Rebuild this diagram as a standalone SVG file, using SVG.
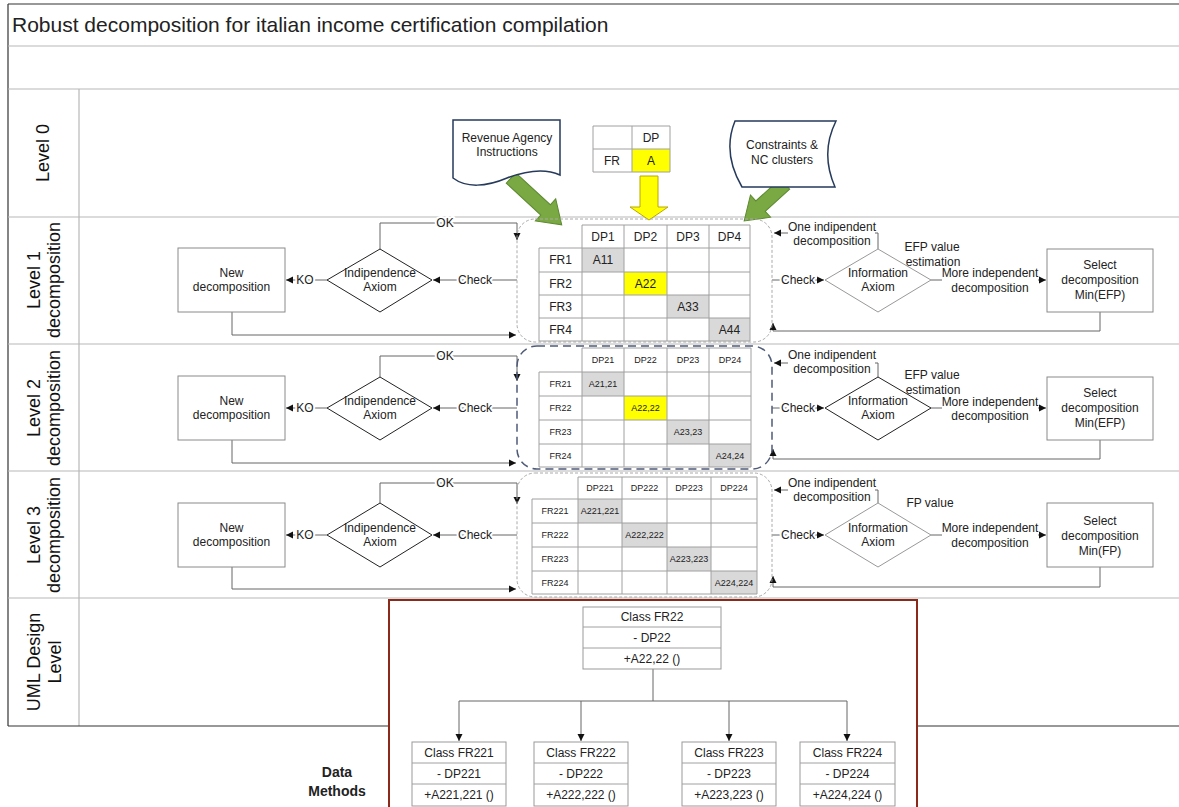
<svg xmlns="http://www.w3.org/2000/svg" width="1179" height="807" viewBox="0 0 1179 807">
<defs>
<marker id="ah" markerWidth="8" markerHeight="8" refX="7" refY="4" orient="auto" markerUnits="userSpaceOnUse"><path d="M0,0.5 L7,4 L0,7.5 Z" fill="#111"/></marker>
<style>
text{font-family:"Liberation Sans",Arial,sans-serif;fill:#222;}
.c{font-size:12px;text-anchor:middle}
.lvl{font-size:18px;text-anchor:middle;fill:#111}
.lane{stroke:#b8b8b8;stroke-width:1.2;fill:none}
.frame{stroke:#333;stroke-width:1.2;fill:none}
.box{fill:#fff;stroke:#8a8a8a;stroke-width:1}
.dia{fill:#fff;stroke:#222;stroke-width:1}
.diag{fill:#fff;stroke:#999;stroke-width:1}
.con{fill:none;stroke:#666;stroke-width:1}
.arr{marker-end:url(#ah)}
.halo{stroke:#fff;stroke-width:4px;paint-order:stroke;stroke-linejoin:round}
.grid{stroke:#a0a0a0;stroke-width:1;fill:none}
.g{fill:#d9d9d9}
.y{fill:#ffff00}
.m1{font-size:12px;text-anchor:middle}
.m2{font-size:9px;text-anchor:middle}
.dl{fill:none;stroke:#aaa;stroke-width:1;stroke-dasharray:3 2}
.dd{fill:none;stroke:#4f5b78;stroke-width:1.5;stroke-dasharray:8 5}
.doc{fill:#fff;stroke:#263a5c;stroke-width:1.5}
.green{fill:#7aa843;stroke:#5d8a30;stroke-width:1}
.uml{fill:#fff;stroke:#999;stroke-width:1}
</style>
</defs>
<rect width="1179" height="807" fill="#fff"/>

<g id="lanes">
<line x1="8" y1="4" x2="1179" y2="4" class="frame"/>
<line x1="8" y1="4" x2="8" y2="726" class="frame"/>
<line x1="8" y1="46" x2="1179" y2="46" class="lane"/>
<line x1="8" y1="89" x2="1179" y2="89" class="lane"/>
<line x1="8" y1="217" x2="1179" y2="217" class="lane"/>
<line x1="8" y1="344" x2="1179" y2="344" class="lane"/>
<line x1="8" y1="471" x2="1179" y2="471" class="lane"/>
<line x1="8" y1="598" x2="1179" y2="598" class="lane"/>
<line x1="79" y1="89" x2="79" y2="726" class="lane"/>
<line x1="8" y1="726" x2="389" y2="726" class="frame"/>
<line x1="917" y1="726" x2="1179" y2="726" class="frame"/>
<text x="12" y="32" font-size="21" fill="#111">Robust decomposition for italian income certification compilation</text>
<text class="lvl" transform="translate(49,153) rotate(-90)">Level 0</text>
<text class="lvl" transform="translate(39.5,280) rotate(-90)">Level 1</text>
<text class="lvl" transform="translate(59.5,280) rotate(-90)">decomposition</text>
<text class="lvl" transform="translate(39.5,408) rotate(-90)">Level 2</text>
<text class="lvl" transform="translate(59.5,408) rotate(-90)">decomposition</text>
<text class="lvl" transform="translate(39.5,535) rotate(-90)">Level 3</text>
<text class="lvl" transform="translate(59.5,535) rotate(-90)">decomposition</text>
<text class="lvl" transform="translate(40,662) rotate(-90)">UML Design</text>
<text class="lvl" transform="translate(61,662) rotate(-90)">Level</text>
<text x="337" y="777" font-size="14" font-weight="bold" text-anchor="middle" fill="#111">Data</text>
<text x="337" y="796" font-size="14" font-weight="bold" text-anchor="middle" fill="#111">Methods</text>
</g>

<g id="connectors">
<!-- level 0 block arrows -->
<polygon class="green" points="0,-7 47,-7 47,-15 69,0 47,15 47,7 0,7" transform="translate(511,178) rotate(42.7)"/>
<polygon class="green" points="0,-7 33,-7 33,-15 55,0 33,15 33,7 0,7" transform="translate(785,184) rotate(137.9)"/>
<polygon points="640,176 658,176 658,207 668,207 649,220 630,207 640,207" fill="#ffff00" stroke="#b8a800" stroke-width="1"/>
<!-- level 1 -->
<line x1="327" y1="280" x2="286" y2="280" class="con arr"/>
<line x1="517" y1="280" x2="433" y2="280" class="con arr"/>
<path d="M380,249 V223 H517 V240" class="con arr"/>
<path d="M232,312 V335 H516" class="con arr"/>
<line x1="772" y1="280" x2="824" y2="280" class="con arr"/>
<path d="M878,249 V233 H774" class="con arr"/>
<line x1="931" y1="280" x2="1046" y2="280" class="con arr"/>
<path d="M1100,312 V331 H773 V323" class="con arr"/>
<!-- level 2 -->
<line x1="327" y1="408" x2="286" y2="408" class="con arr"/>
<line x1="517" y1="408" x2="433" y2="408" class="con arr"/>
<path d="M380,377 V356 H517 V381" class="con arr"/>
<path d="M232,440 V463 H516" class="con arr"/>
<line x1="772" y1="408" x2="824" y2="408" class="con arr"/>
<path d="M878,377 V363 H774" class="con arr"/>
<line x1="931" y1="408" x2="1046" y2="408" class="con arr"/>
<path d="M1100,440 V459 H773 V449" class="con arr"/>
<!-- level 3 -->
<line x1="327" y1="535" x2="286" y2="535" class="con arr"/>
<line x1="517" y1="535" x2="433" y2="535" class="con arr"/>
<path d="M380,503 V483 H517 V504" class="con arr"/>
<path d="M232,567 V589 H516" class="con arr"/>
<line x1="772" y1="535" x2="824" y2="535" class="con arr"/>
<path d="M878,503 V490 H774" class="con arr"/>
<line x1="931" y1="535" x2="1046" y2="535" class="con arr"/>
<path d="M1100,567 V587 H773 V576" class="con arr"/>
<!-- UML -->
<path d="M653,669 V701 M459,701 H847" class="con"/>
<line x1="459" y1="701" x2="459" y2="741" class="con arr"/>
<line x1="581" y1="701" x2="581" y2="741" class="con arr"/>
<line x1="729" y1="701" x2="729" y2="741" class="con arr"/>
<line x1="847" y1="701" x2="847" y2="741" class="con arr"/>
<!-- labels -->
<g class="c">
<text class="halo" x="305" y="284">KO</text>
<text class="halo" x="475" y="284">Check</text>
<text class="halo" x="445" y="227">OK</text>
<text class="halo" x="798" y="284">Check</text>
<text class="halo" x="305" y="412">KO</text>
<text class="halo" x="475" y="412">Check</text>
<text class="halo" x="445" y="360">OK</text>
<text class="halo" x="798" y="412">Check</text>
<text class="halo" x="305" y="539">KO</text>
<text class="halo" x="475" y="539">Check</text>
<text class="halo" x="445" y="487">OK</text>
<text class="halo" x="798" y="539">Check</text>
</g>
<rect x="788" y="219" width="87" height="29" fill="#fff"/>
<rect x="788" y="347" width="87" height="29" fill="#fff"/>
<rect x="788" y="474" width="87" height="29" fill="#fff"/>
<rect x="942" y="266" width="96" height="30" fill="#fff"/>
<rect x="942" y="394" width="96" height="30" fill="#fff"/>
<rect x="942" y="521" width="96" height="30" fill="#fff"/>
<g class="c">
<text x="832" y="231">One indipendent</text><text x="832" y="245">decomposition</text>
<text x="832" y="359">One indipendent</text><text x="832" y="373">decomposition</text>
<text x="832" y="487">One indipendent</text><text x="832" y="501">decomposition</text>
<text x="990" y="277">More independent</text><text x="990" y="292">decomposition</text>
<text x="990" y="406">More independent</text><text x="990" y="420">decomposition</text>
<text x="990" y="532">More independent</text><text x="990" y="547">decomposition</text>
<text x="932" y="251">EFP value</text><text class="halo" x="933" y="266">estimation</text>
<text x="932" y="379">EFP value</text><text class="halo" x="933" y="394">estimation</text>
<text x="930" y="507">FP value</text>
</g>
</g>

<g id="revenue">
<path class="doc" d="M453,120 H560 V175 C545,168 528,170 507,178 C486,187 466,188 453,178 Z"/>
<text class="c" x="507" y="142">Revenue Agency</text>
<text class="c" x="507" y="156">Instructions</text>
</g>
<g id="dpfr">
<rect x="632" y="149" width="38" height="23" class="y"/>
<path d="M593,126 H670 V172 H593 Z M632,126 V172 M593,149 H670" class="grid"/>
<text class="c" x="651" y="142">DP</text>
<text class="c" x="612" y="165">FR</text>
<text class="c" x="651" y="165">A</text>
</g>
<g id="constraints">
<path class="doc" d="M735,121 H836 Q820,153 835,187 H742 Q722,153 735,121 Z"/>
<text class="c" x="782" y="149">Constraints &amp;</text>
<text class="c" x="782" y="164">NC clusters</text>
</g>

<!-- Level 1 -->
<g id="l1-new"><rect x="178" y="248" width="107" height="64" class="box"/><text class="c" x="231.5" y="277">New</text><text class="c" x="231.5" y="291">decomposition</text></g>
<g id="l1-ind"><polygon points="327,280 380,249 432,280 380,312" class="dia"/><text class="c" x="380" y="277">Indipendence</text><text class="c" x="380" y="291">Axiom</text></g>
<g id="l1-matrix">
<rect x="517" y="219" width="255" height="123" rx="18" class="dl"/>
<rect x="582" y="248" width="42" height="24" class="g"/>
<rect x="624" y="272" width="43" height="23" class="y"/>
<rect x="667" y="295" width="42" height="23" class="g"/>
<rect x="709" y="318" width="41" height="23" class="g"/>
<path class="grid" d="M582,225 H750 M539,248 H750 M539,272 H750 M539,295 H750 M539,318 H750 M539,341 H750 M539,248 V341 M582,225 V341 M624,225 V341 M667,225 V341 M709,225 V341 M750,225 V341"/>
<g class="m1">
<text x="603" y="241">DP1</text><text x="645.5" y="241">DP2</text><text x="688" y="241">DP3</text><text x="729.5" y="241">DP4</text>
<text x="560.5" y="264">FR1</text><text x="560.5" y="288">FR2</text><text x="560.5" y="311">FR3</text><text x="560.5" y="334">FR4</text>
<text x="603" y="264">A11</text><text x="645.5" y="288">A22</text><text x="688" y="311">A33</text><text x="729.5" y="334">A44</text>
</g>
</g>
<g id="l1-info"><polygon points="825,280 878,249 931,280 878,312" class="diag"/><text class="c" x="878" y="277">Information</text><text class="c" x="878" y="291">Axiom</text></g>
<g id="l1-select"><rect x="1047" y="249" width="106" height="63" class="box"/><text class="c" x="1100" y="269">Select</text><text class="c" x="1100" y="284">decomposition</text><text class="c" x="1100" y="299">Min(EFP)</text></g>

<!-- Level 2 -->
<g id="l2-new"><rect x="178" y="376" width="107" height="64" class="box"/><text class="c" x="231.5" y="405">New</text><text class="c" x="231.5" y="419">decomposition</text></g>
<g id="l2-ind"><polygon points="327,408 380,377 432,408 380,440" class="dia"/><text class="c" x="380" y="405">Indipendence</text><text class="c" x="380" y="419">Axiom</text></g>
<g id="l2-matrix">
<rect x="582" y="372" width="42" height="24" class="g"/>
<rect x="624" y="396" width="43" height="24" class="y"/>
<rect x="667" y="420" width="42" height="24" class="g"/>
<rect x="709" y="444" width="42" height="23" class="g"/>
<path class="grid" d="M582,348 H751 M539,372 H751 M539,396 H751 M539,420 H751 M539,444 H751 M539,467 H751 M539,372 V467 M582,348 V467 M624,348 V467 M667,348 V467 M709,348 V467 M751,348 V467"/>
<rect x="517" y="346" width="255" height="123" rx="20" class="dd"/>
<g class="m2">
<text x="603" y="363">DP21</text><text x="645.5" y="363">DP22</text><text x="688" y="363">DP23</text><text x="730" y="363">DP24</text>
<text x="560.5" y="387">FR21</text><text x="560.5" y="411">FR22</text><text x="560.5" y="435">FR23</text><text x="560.5" y="459">FR24</text>
<text x="603" y="387">A21,21</text><text x="645.5" y="411">A22,22</text><text x="688" y="435">A23,23</text><text x="730" y="459">A24,24</text>
</g>
</g>
<g id="l2-info"><polygon points="825,408 878,377 931,408 878,440" class="dia"/><text class="c" x="878" y="405">Information</text><text class="c" x="878" y="419">Axiom</text></g>
<g id="l2-select"><rect x="1047" y="377" width="106" height="63" class="box"/><text class="c" x="1100" y="397">Select</text><text class="c" x="1100" y="412">decomposition</text><text class="c" x="1100" y="427">Min(EFP)</text></g>

<!-- Level 3 -->
<g id="l3-new"><rect x="178" y="503" width="107" height="64" class="box"/><text class="c" x="231.5" y="532">New</text><text class="c" x="231.5" y="546">decomposition</text></g>
<g id="l3-ind"><polygon points="327,535 380,503 432,535 380,567" class="dia"/><text class="c" x="380" y="532">Indipendence</text><text class="c" x="380" y="546">Axiom</text></g>
<g id="l3-matrix">
<rect x="517" y="473" width="255" height="124" rx="18" class="dl"/>
<rect x="578" y="499" width="44" height="24" class="g"/>
<rect x="622" y="523" width="45" height="24" class="g"/>
<rect x="667" y="547" width="44" height="24" class="g"/>
<rect x="711" y="571" width="46" height="23" class="g"/>
<path class="grid" d="M578,477 H757 M532,499 H757 M532,523 H757 M532,547 H757 M532,571 H757 M532,594 H757 M532,499 V594 M578,477 V594 M622,477 V594 M667,477 V594 M711,477 V594 M757,477 V594"/>
<g class="m2">
<text x="600" y="491">DP221</text><text x="644.5" y="491">DP222</text><text x="689" y="491">DP223</text><text x="734" y="491">DP224</text>
<text x="555" y="514">FR221</text><text x="555" y="538">FR222</text><text x="555" y="562">FR223</text><text x="555" y="586">FR224</text>
<text x="600" y="514">A221,221</text><text x="644.5" y="538">A222,222</text><text x="689" y="562">A223,223</text><text x="734" y="586">A224,224</text>
</g>
</g>
<g id="l3-info"><polygon points="825,535 878,503 931,535 878,567" class="diag"/><text class="c" x="878" y="532">Information</text><text class="c" x="878" y="546">Axiom</text></g>
<g id="l3-select"><rect x="1047" y="503" width="106" height="64" class="box"/><text class="c" x="1100" y="525">Select</text><text class="c" x="1100" y="540">decomposition</text><text class="c" x="1100" y="555">Min(FP)</text></g>

<!-- UML -->
<g id="uml-frame"><path d="M389,810 V600 H917 V810" fill="none" stroke="#8b2a1a" stroke-width="2"/></g>
<g id="class-fr22"><rect x="583" y="607" width="138" height="62" class="uml"/><path d="M583,627 H721 M583,648 H721" class="grid"/>
<text class="c" x="652" y="621">Class FR22</text><text class="c" x="652" y="642">- DP22</text><text class="c" x="652" y="663">+A22,22 ()</text></g>
<g id="class-fr221"><rect x="412" y="742" width="94" height="64" class="uml"/><path d="M412,763 H506 M412,784 H506" class="grid"/>
<text class="c" x="459" y="757">Class FR221</text><text class="c" x="459" y="778">- DP221</text><text class="c" x="459" y="799">+A221,221 ()</text></g>
<g id="class-fr222"><rect x="534" y="742" width="94" height="64" class="uml"/><path d="M534,763 H628 M534,784 H628" class="grid"/>
<text class="c" x="581" y="757">Class FR222</text><text class="c" x="581" y="778">- DP222</text><text class="c" x="581" y="799">+A222,222 ()</text></g>
<g id="class-fr223"><rect x="682" y="742" width="94" height="64" class="uml"/><path d="M682,763 H776 M682,784 H776" class="grid"/>
<text class="c" x="729" y="757">Class FR223</text><text class="c" x="729" y="778">- DP223</text><text class="c" x="729" y="799">+A223,223 ()</text></g>
<g id="class-fr224"><rect x="800" y="742" width="95" height="64" class="uml"/><path d="M800,763 H895 M800,784 H895" class="grid"/>
<text class="c" x="847.5" y="757">Class FR224</text><text class="c" x="847.5" y="778">- DP224</text><text class="c" x="847.5" y="799">+A224,224 ()</text></g>
</svg>
